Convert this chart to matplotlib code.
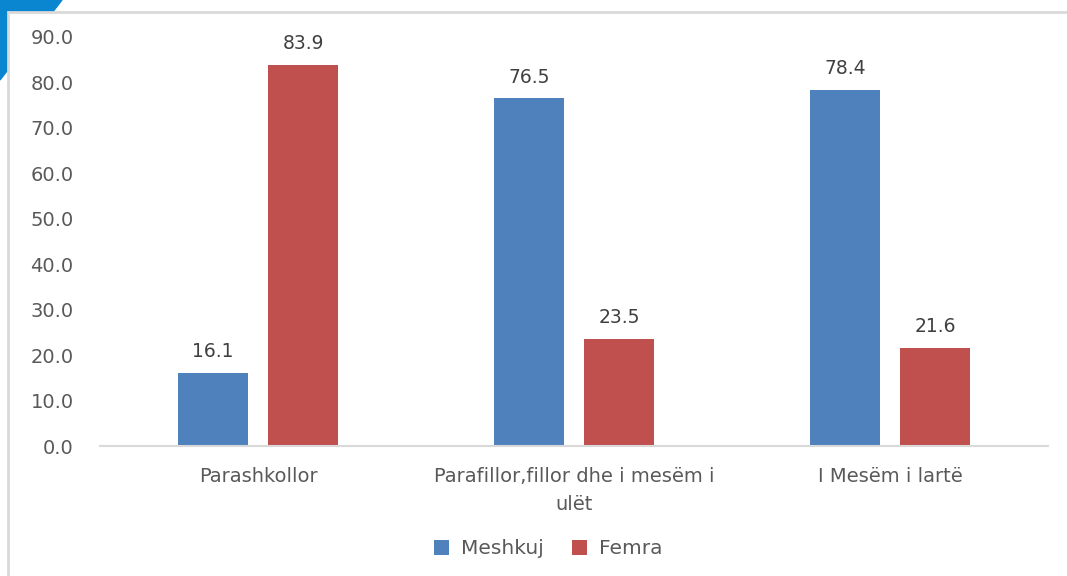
#Grafiku: Meshkuj dhe Femra sipas nivelit arsimor

import matplotlib.pyplot as plt
import numpy as np
from matplotlib.patches import Polygon, Rectangle

kategorite = ['Parashkollor', 'Parafillor,fillor dhe i mesëm i\nulët', 'I Mesëm i lartë']
meshkuj = [16.1, 76.5, 78.4]
femra = [83.9, 23.5, 21.6]

blu = '#4f81bd'
kuq = '#c0504d'
gri = '#595959'

W, H = 1067, 576
fig = plt.figure(figsize=(W/100, H/100), dpi=100)

# dekorimi blu ne kendin lart majtas dhe korniza e grafikut
fig.patches.append(Polygon([[0, 1], [62/W, 1], [0, 1-80/H]], closed=True,
                           transform=fig.transFigure, color='#0a86d0', zorder=-3))
fig.patches.append(Rectangle((8/W, -0.1), 1.2, 1.1-12/H, transform=fig.transFigure,
                             facecolor='white', edgecolor='#d9d9d9', linewidth=2, zorder=-2))

ax = fig.add_axes([100/W, 1-446/H, 948/W, 409/H])
ax.set_facecolor('none')
ax.set_zorder(2)

x = np.arange(len(kategorite))
w = 0.222
d = 0.0315 + w/2
b1 = ax.bar(x - d, meshkuj, w, color=blu, label='Meshkuj')
b2 = ax.bar(x + d, femra, w, color=kuq, label='Femra')

for bars, vals in [(b1, meshkuj), (b2, femra)]:
    for r, v in zip(bars, vals):
        ax.annotate('%.1f' % v, (r.get_x() + r.get_width()/2, v), xytext=(0, 8.5),
                    textcoords='offset points', ha='center', va='bottom',
                    fontsize=13.5, color='#404040')

ax.set_xlim(-0.5, 2.5)
ax.set_ylim(0, 90)
ax.set_yticks(np.arange(0, 91, 10))
ax.set_yticklabels(['%.1f' % t for t in np.arange(0, 91, 10)])
ax.set_xticks(x)
ax.set_xticklabels(kategorite, linespacing=1.6)
ax.tick_params(axis='y', length=0, labelsize=14, labelcolor=gri, pad=19)
ax.tick_params(axis='x', length=0, labelsize=14, labelcolor=gri, pad=15)
for s in ['top', 'right', 'left']:
    ax.spines[s].set_visible(False)
ax.spines['bottom'].set_color('#d9d9d9')
ax.spines['bottom'].set_linewidth(1.5)

leg = fig.legend(loc='center', bbox_to_anchor=(548/W, 1-549/H), ncol=2, frameon=False,
                 fontsize=14.5, handlelength=0.75, handleheight=0.75, columnspacing=1.4,
                 handletextpad=0.6)
for t in leg.get_texts():
    t.set_color(gri)

fig.savefig('out.png', dpi=100)
